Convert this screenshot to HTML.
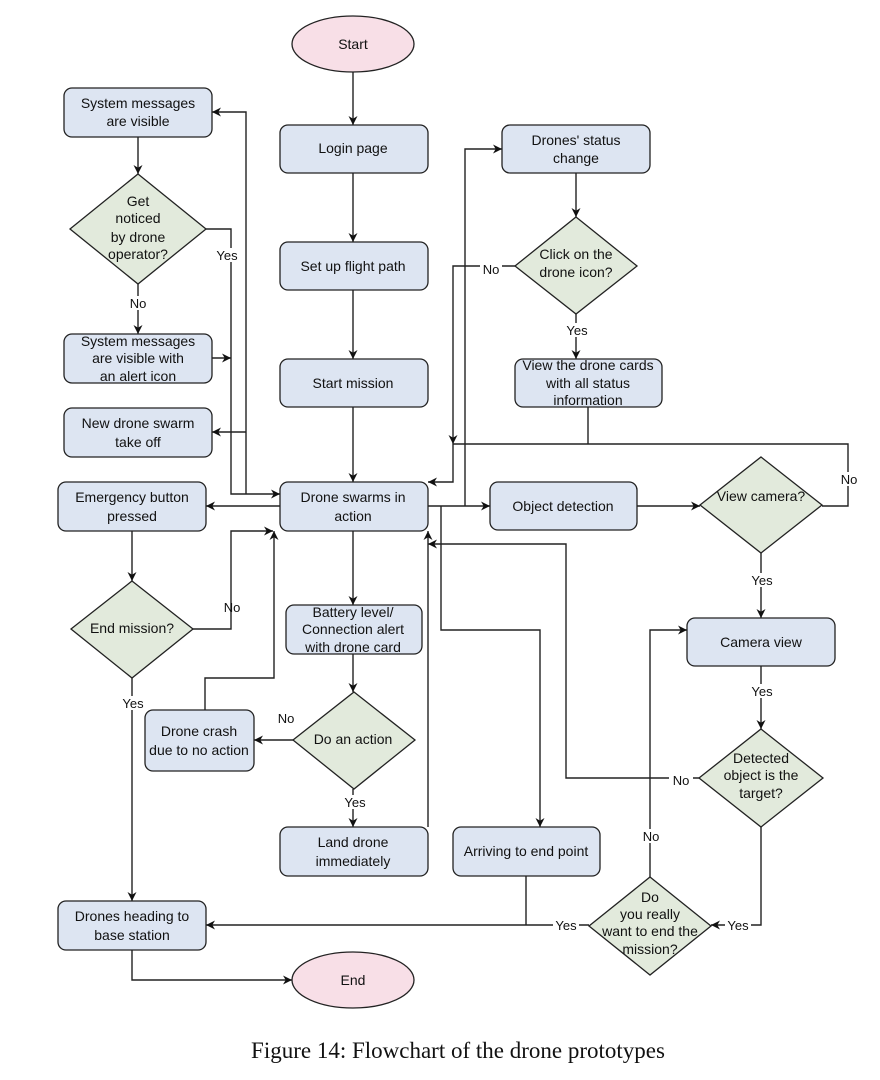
<!DOCTYPE html>
<html><head><meta charset="utf-8"><style>
html,body{margin:0;padding:0;background:#fff;}
svg{display:block;}
text{font-family:"Liberation Sans",sans-serif;font-size:14px;fill:#111;text-anchor:middle;}
.lbl{font-size:13px;}
.b{fill:#dde5f2;stroke:#222;stroke-width:1.3;}
.d{fill:#e2eadc;stroke:#222;stroke-width:1.3;}
.e{fill:#f8dfe7;stroke:#222;stroke-width:1.3;}
.l{fill:none;stroke:#222;stroke-width:1.4;}
</style></head><body>
<svg width="880" height="1080" viewBox="0 0 880 1080" xmlns="http://www.w3.org/2000/svg">
<defs>
<marker id="a" viewBox="0 0 10 10" refX="10" refY="5" markerWidth="9" markerHeight="9" orient="auto" markerUnits="userSpaceOnUse">
<path d="M0,0 L10,5 L0,10 L3,5 z" fill="#111"/></marker>
</defs>

<g class="l">
<path d="M353 72V125" marker-end="url(#a)"/>
<path d="M353 173V242" marker-end="url(#a)"/>
<path d="M353 290V359" marker-end="url(#a)"/>
<path d="M353 407V482" marker-end="url(#a)"/>
<path d="M353 531V605" marker-end="url(#a)"/>
<path d="M353 654V692" marker-end="url(#a)"/>
<path d="M353 789V827" marker-end="url(#a)"/>
<path d="M293 740H254" marker-end="url(#a)"/>
<path d="M205 710V678H274V531" marker-end="url(#a)"/>
<path d="M193 629H231V531H273" marker-end="url(#a)"/>
<path d="M428 827V531" marker-end="url(#a)"/>
<path d="M280 506H206" marker-end="url(#a)"/>
<path d="M132 531V581" marker-end="url(#a)"/>
<path d="M132 678V901" marker-end="url(#a)"/>
<path d="M132 950V980H292" marker-end="url(#a)"/>
<path d="M138 137V174" marker-end="url(#a)"/>
<path d="M138 284V334" marker-end="url(#a)"/>
<path d="M206 229H231V494H280" marker-end="url(#a)"/>
<path d="M246 494V112H212" marker-end="url(#a)"/>
<path d="M246 432H212" marker-end="url(#a)"/>
<path d="M212 358H231" marker-end="url(#a)"/>
<path d="M428 506H490" marker-end="url(#a)"/>
<path d="M465 506V149H502" marker-end="url(#a)"/>
<path d="M576 173V217" marker-end="url(#a)"/>
<path d="M515 266H453V444" marker-end="url(#a)"/>
<path d="M453 444V482H428" marker-end="url(#a)"/>
<path d="M576 314V359" marker-end="url(#a)"/>
<path d="M588 407V444"/>
<path d="M453 444H848V506H822"/>
<path d="M637 506H700" marker-end="url(#a)"/>
<path d="M761 553V618" marker-end="url(#a)"/>
<path d="M761 666V729" marker-end="url(#a)"/>
<path d="M699 778H566V544H428" marker-end="url(#a)"/>
<path d="M761 827V925H711" marker-end="url(#a)"/>
<path d="M650 877V630H687" marker-end="url(#a)"/>
<path d="M589 925H206" marker-end="url(#a)"/>
<path d="M526 876V925"/>
<path d="M441 506V630H540V827" marker-end="url(#a)"/>
</g>

<ellipse class="e" cx="353" cy="44" rx="61" ry="28"/>
<ellipse class="e" cx="353" cy="980" rx="61" ry="28"/>
<rect class="b" x="280" y="125" width="148" height="48" rx="8"/>
<rect class="b" x="280" y="242" width="148" height="48" rx="8"/>
<rect class="b" x="280" y="359" width="148" height="48" rx="8"/>
<rect class="b" x="280" y="482" width="148" height="49" rx="8"/>
<rect class="b" x="64" y="88" width="148" height="49" rx="8"/>
<rect class="b" x="64" y="334" width="148" height="49" rx="8"/>
<rect class="b" x="64" y="408" width="148" height="49" rx="8"/>
<rect class="b" x="58" y="482" width="148" height="49" rx="8"/>
<rect class="b" x="145" y="710" width="109" height="61" rx="8"/>
<rect class="b" x="286" y="605" width="136" height="49" rx="8"/>
<rect class="b" x="280" y="827" width="148" height="49" rx="8"/>
<rect class="b" x="58" y="901" width="148" height="49" rx="8"/>
<rect class="b" x="502" y="125" width="148" height="48" rx="8"/>
<rect class="b" x="515" y="359" width="147" height="48" rx="8"/>
<rect class="b" x="490" y="482" width="147" height="48" rx="8"/>
<rect class="b" x="687" y="618" width="148" height="48" rx="8"/>
<rect class="b" x="453" y="827" width="147" height="49" rx="8"/>

<polygon class="d" points="138,174 206,229 138,284 70,229"/>
<polygon class="d" points="132,581 193,629 132,678 71,629"/>
<polygon class="d" points="354,692 415,740 354,789 293,740"/>
<polygon class="d" points="576,217 637,266 576,314 515,266"/>
<polygon class="d" points="761,457 822,505 761,553 700,505"/>
<polygon class="d" points="761,729 823,778 761,827 699,778"/>
<polygon class="d" points="650,877 711,926 650,975 589,926"/>

<text x="353" y="49">Start</text>
<text x="353" y="985">End</text>
<text x="353" y="153">Login page</text>
<text x="353" y="271">Set up flight path</text>
<text x="353" y="388">Start mission</text>
<text x="353" y="502">Drone swarms in</text><text x="353" y="521">action</text>
<text x="138" y="108">System messages</text><text x="138" y="126">are visible</text>
<text x="138" y="206">Get</text><text x="138" y="223">noticed</text><text x="138" y="242">by drone</text><text x="138" y="259">operator?</text>
<text x="138" y="346">System messages</text><text x="138" y="363">are visible with</text><text x="138" y="381">an alert icon</text>
<text x="138" y="428">New drone swarm</text><text x="138" y="447">take off</text>
<text x="132" y="502">Emergency button</text><text x="132" y="521">pressed</text>
<text x="132" y="633">End mission?</text>
<text x="199" y="736">Drone crash</text><text x="199" y="755">due to no action</text>
<text x="353" y="617">Battery level/</text><text x="353" y="634">Connection alert</text><text x="353" y="652">with drone card</text>
<text x="353" y="744">Do an action</text>
<text x="353" y="847">Land drone</text><text x="353" y="866">immediately</text>
<text x="132" y="921">Drones heading to</text><text x="132" y="940">base station</text>
<text x="576" y="145">Drones' status</text><text x="576" y="163">change</text>
<text x="576" y="259">Click on the</text><text x="576" y="277">drone icon?</text>
<text x="588" y="370">View the drone cards</text><text x="588" y="388">with all status</text><text x="588" y="405">information</text>
<text x="563" y="511">Object detection</text>
<text x="761" y="501">View camera?</text>
<text x="761" y="647">Camera view</text>
<text x="761" y="763">Detected</text><text x="761" y="780">object is the</text><text x="761" y="798">target?</text>
<text x="526" y="856">Arriving to end point</text>
<text x="650" y="902">Do</text><text x="650" y="919">you really</text><text x="650" y="936">want to end the</text><text x="650" y="954">mission?</text>

<g class="lbl">
<rect x="214" y="248" width="26" height="14" fill="#fff"/><text class="lbl" x="227" y="260">Yes</text>
<rect x="128" y="296" width="20" height="14" fill="#fff"/><text class="lbl" x="138" y="308">No</text>
<text class="lbl" x="232" y="612">No</text>
<rect x="120" y="696" width="26" height="14" fill="#fff"/><text class="lbl" x="133" y="708">Yes</text>
<text class="lbl" x="286" y="723">No</text>
<rect x="341" y="795" width="26" height="14" fill="#fff"/><text class="lbl" x="355" y="807">Yes</text>
<rect x="480" y="262" width="22" height="14" fill="#fff"/><text class="lbl" x="491" y="274">No</text>
<rect x="564" y="323" width="26" height="14" fill="#fff"/><text class="lbl" x="577" y="335">Yes</text>
<rect x="838" y="472" width="22" height="14" fill="#fff"/><text class="lbl" x="849" y="484">No</text>
<rect x="748" y="573" width="26" height="14" fill="#fff"/><text class="lbl" x="762" y="585">Yes</text>
<rect x="748" y="684" width="26" height="14" fill="#fff"/><text class="lbl" x="762" y="696">Yes</text>
<rect x="669" y="773" width="24" height="14" fill="#fff"/><text class="lbl" x="681" y="785">No</text>
<rect x="640" y="829" width="22" height="14" fill="#fff"/><text class="lbl" x="651" y="841">No</text>
<rect x="553" y="918" width="26" height="14" fill="#fff"/><text class="lbl" x="566" y="930">Yes</text>
<rect x="725" y="918" width="26" height="14" fill="#fff"/><text class="lbl" x="738" y="930">Yes</text>
</g>

<text x="458" y="1058" style="font-family:'Liberation Serif',serif;font-size:23px;">Figure 14: Flowchart of the drone prototypes</text>
</svg>
</body></html>
